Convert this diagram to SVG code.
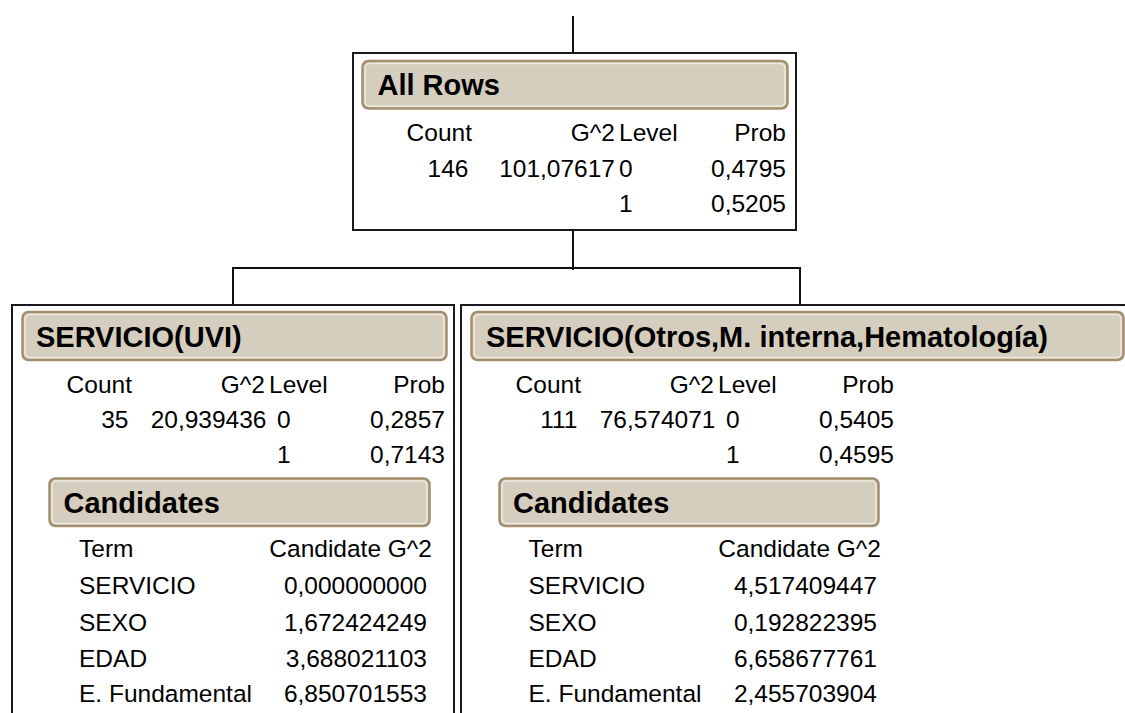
<svg xmlns="http://www.w3.org/2000/svg" width="1125" height="713" viewBox="0 0 1125 713">
<style>
.box{fill:#fff;stroke:#1a1a1a;stroke-width:2}
.hdr{fill:#d5cdbd;stroke:#a38e6d;stroke-width:2.5}
.hl{fill:none;stroke:#eeeae2;stroke-width:1.5}
.ht{font-family:"Liberation Sans",Arial,sans-serif;font-weight:bold;font-size:29px;fill:#000}
.t{font-family:"Liberation Sans",Arial,sans-serif;font-size:24.5px;fill:#000}
.e{text-anchor:end}
.conn{fill:none;stroke:#111;stroke-width:2}
</style>
<rect width="1125" height="713" fill="#fff"/>
<g id="connectors">
<line class="conn" x1="573" y1="16" x2="573" y2="53"/>
<line class="conn" x1="573" y1="230" x2="573" y2="270"/>
<polyline class="conn" points="233,305 233,268 800,268 800,305"/>
</g>
<g id="node-all-rows">
<rect class="box" x="353" y="53" width="443" height="177"/>
<rect class="hdr" x="362.5" y="61" width="425" height="47.5" rx="6"/>
<rect class="hl" x="365" y="63.5" width="420" height="42.5" rx="4.5"/>
<text class="ht" x="377.5" y="95">All Rows</text>
<text class="t e" x="472" y="141">Count</text>
<text class="t e" x="615" y="141">G^2</text>
<text class="t" x="619" y="141">Level</text>
<text class="t e" x="786" y="141">Prob</text>
<text class="t e" x="468.5" y="177">146</text>
<text class="t e" x="615" y="177">101,07617</text>
<text class="t" x="619" y="177">0</text>
<text class="t e" x="786" y="177">0,4795</text>
<text class="t" x="619" y="212">1</text>
<text class="t e" x="786" y="212">0,5205</text>
</g>
<g id="node-uvi">
<path class="box" d="M12,713 V305 H454 V713"/>
<rect class="hdr" x="22.5" y="312" width="424" height="48" rx="6"/>
<rect class="hl" x="25" y="314.5" width="419" height="43" rx="4.5"/>
<text class="ht" x="36" y="346.5">SERVICIO(UVI)</text>
<text class="t e" x="132" y="393">Count</text>
<text class="t e" x="265" y="393">G^2</text>
<text class="t" x="269" y="393">Level</text>
<text class="t e" x="445" y="393">Prob</text>
<text class="t e" x="128.5" y="428">35</text>
<text class="t e" x="266.5" y="428">20,939436</text>
<text class="t" x="277" y="428">0</text>
<text class="t e" x="445" y="428">0,2857</text>
<text class="t" x="277" y="463">1</text>
<text class="t e" x="445" y="463">0,7143</text>
<rect class="hdr" x="49.5" y="478.5" width="380" height="47.5" rx="6"/>
<rect class="hl" x="52" y="481" width="375" height="42.5" rx="4.5"/>
<text class="ht" x="63.5" y="513">Candidates</text>
<text class="t" x="79" y="556.5">Term</text>
<text class="t e" x="432" y="556.5">Candidate G^2</text>
<text class="t" x="79" y="594">SERVICIO</text>
<text class="t e" x="427" y="594">0,000000000</text>
<text class="t" x="79" y="631">SEXO</text>
<text class="t e" x="427" y="631">1,672424249</text>
<text class="t" x="79" y="666.5">EDAD</text>
<text class="t e" x="427" y="666.5">3,688021103</text>
<text class="t" x="79" y="701.5">E. Fundamental</text>
<text class="t e" x="427" y="701.5">6,850701553</text>
</g>
<g id="node-otros">
<path class="box" d="M461,713 V305 H1127"/>
<rect class="hdr" x="471.5" y="312" width="652" height="48" rx="6"/>
<rect class="hl" x="474" y="314.5" width="647" height="43" rx="4.5"/>
<text class="ht" x="486" y="346.5">SERVICIO(Otros,M. interna,Hematología)</text>
<text class="t e" x="581" y="393">Count</text>
<text class="t e" x="714" y="393">G^2</text>
<text class="t" x="718" y="393">Level</text>
<text class="t e" x="894" y="393">Prob</text>
<text class="t e" x="577.5" y="428">111</text>
<text class="t e" x="715.5" y="428">76,574071</text>
<text class="t" x="726" y="428">0</text>
<text class="t e" x="894" y="428">0,5405</text>
<text class="t" x="726" y="463">1</text>
<text class="t e" x="894" y="463">0,4595</text>
<rect class="hdr" x="499.5" y="478.5" width="379" height="47.5" rx="6"/>
<rect class="hl" x="502" y="481" width="374" height="42.5" rx="4.5"/>
<text class="ht" x="513" y="513">Candidates</text>
<text class="t" x="528.5" y="556.5">Term</text>
<text class="t e" x="881" y="556.5">Candidate G^2</text>
<text class="t" x="528.5" y="594">SERVICIO</text>
<text class="t e" x="877" y="594">4,517409447</text>
<text class="t" x="528.5" y="631">SEXO</text>
<text class="t e" x="877" y="631">0,192822395</text>
<text class="t" x="528.5" y="666.5">EDAD</text>
<text class="t e" x="877" y="666.5">6,658677761</text>
<text class="t" x="528.5" y="701.5">E. Fundamental</text>
<text class="t e" x="877" y="701.5">2,455703904</text>
</g>
</svg>
